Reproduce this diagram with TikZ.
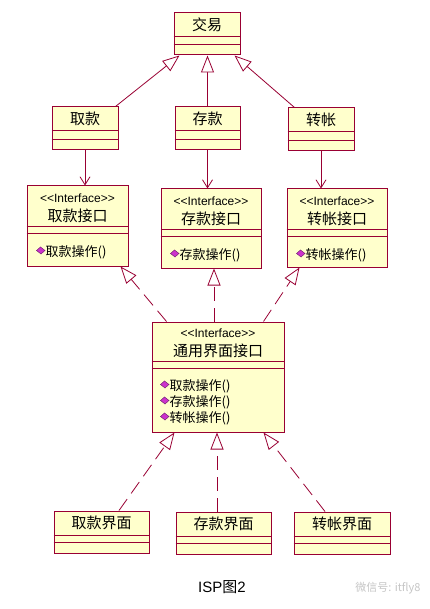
\documentclass[tikz,border=0pt]{standalone}
\usepackage{fontspec}
\setmainfont{Liberation Sans}
\newfontfamily\cjk{Noto Sans CJK SC}
\newfontfamily\stereofont{Liberation Sans}
\usepackage{tikz}
\usetikzlibrary{
	arrows.meta,
	calc,
	positioning
}
\definecolor{ClassRed}{RGB}{153,0,51}
\definecolor{ClassFill}{RGB}{255,255,204}
\definecolor{OpPurple}{RGB}{204,51,204}

% 类框里的两条分隔线：#1 节点名，#2 #3 距上边的距离
\newcommand{\classrules}[3]{%
	\draw[ClassRed, line width=1pt] ($(#1.north west)+(0,#2)$) -- ($(#1.north east)+(0,#2)$);
	\draw[ClassRed, line width=1pt] ($(#1.north west)+(0,#3)$) -- ($(#1.north east)+(0,#3)$);
}
% 操作名前面的小菱形
\newcommand{\opdiamond}[1]{%
	\filldraw[fill=OpPurple, draw=OpPurple!50!black, line width=0.4pt]
		($(#1.west)+(-9,-2)$) -- ($(#1.west)+(-5,-5.5)$) -- ($(#1.west)+(-0.5,-2)$) -- ($(#1.west)+(-4.5,1.5)$) -- cycle;
}

\begin{document}
\begin{tikzpicture}[x=1pt, y=-1pt,
		classbox/.style={draw=ClassRed, fill=ClassFill, line width=1pt, inner sep=0pt},
		title/.style={inner sep=0pt, font=\cjk\fontsize{15}{18}\selectfont},
		stereo/.style={inner sep=0pt, font=\stereofont\fontsize{12}{14}\selectfont},
		op/.style={inner sep=0pt, anchor=west, font=\cjk\fontsize{13}{15}\selectfont},
		inherit/.style={draw=ClassRed, line width=0.8pt, -{Triangle[open, length=17pt, width=13pt, fill=white]}},
		realize/.style={inherit, dash pattern=on 14pt off 7pt},
		depend/.style={draw=ClassRed, line width=0.8pt, -{Straight Barb[length=8pt, width=10pt]}}]
	\fill[white] (0,0) rectangle (430,609);
	\useasboundingbox (0,0) rectangle (430,609);
	
	% 父类 交易
	\node[classbox, minimum width=66pt, minimum height=42pt] (jy) at (207,34) {};
	\classrules{jy}{24}{32}
	\node[title] (jy-t) at ($(jy.north)+(0,12)$) {交易};
	
	% 三个子类
	\node[classbox, minimum width=66pt, minimum height=43pt] (qk) at (85,128.5) {};
	\node[classbox, minimum width=65pt, minimum height=43pt] (ck) at (207.5,128.5) {};
	\node[classbox, minimum width=66pt, minimum height=43pt] (zz) at (321,129.5) {};
	\foreach \n/\t in {qk/取款, ck/存款, zz/转帐}{
		\classrules{\n}{24}{33}
		\node[title] (\n-t) at ($(\n.north)+(0,12)$) {\t};
	}
	
	% 三个接口
	\node[classbox, minimum width=101pt, minimum height=80pt] (qkjk) at (77.5,226) {};
	\node[classbox, minimum width=100pt, minimum height=79pt] (ckjk) at (211,228.5) {};
	\node[classbox, minimum width=100pt, minimum height=78pt] (zzjk) at (337,228) {};
	\foreach \n/\t/\o in {qkjk/取款接口/取款操作(), ckjk/存款接口/存款操作(), zzjk/转帐接口/转帐操作()}{
		\classrules{\n}{41}{48}
		\node[stereo] (\n-s) at ($(\n.north)+(0,13)$) {<<Interface>>};
		\node[title] (\n-t) at ($(\n.north)+(0,30)$) {\t};
		\node[op] (\n-o) at ($(\n.north west)+(19,67)$) {\o};
		\opdiamond{\n-o}
	}
	
	% 通用界面接口
	\node[classbox, minimum width=132pt, minimum height=110pt] (ty) at (218,377) {};
	\classrules{ty}{40}{47}
	\node[stereo] (ty-s) at ($(ty.north)+(0,12)$) {<<Interface>>};
	\node[title] (ty-t) at ($(ty.north)+(0,29)$) {通用界面接口};
	\node[op] (ty-o1) at ($(ty.north west)+(18,65)$) {取款操作()};
	\node[op] (ty-o2) at ($(ty.north west)+(18,81)$) {存款操作()};
	\node[op] (ty-o3) at ($(ty.north west)+(18,97)$) {转帐操作()};
	\foreach \o in {ty-o1, ty-o2, ty-o3}{\opdiamond{\o}}
	
	% 三个界面
	\node[classbox, minimum width=95pt, minimum height=42pt] (qkjm) at (101.5,532) {};
	\node[classbox, minimum width=95pt, minimum height=42pt] (ckjm) at (223.5,533) {};
	\node[classbox, minimum width=96pt, minimum height=42pt] (zzjm) at (342,533) {};
	\foreach \n/\t in {qkjm/取款界面, ckjm/存款界面, zzjm/转帐界面}{
		\classrules{\n}{25}{32}
		\node[title] (\n-t) at ($(\n.north)+(0,12.5)$) {\t};
	}
	
	% 继承
	\draw[inherit] ($(qk.north east)+(-3,0)$) -- ($(jy.south west)+(6,0)$);
	\draw[inherit] (ck.north) -- (ck.north |- jy.south);
	\draw[inherit] ($(zz.north west)+(7,0)$) -- ($(jy.south east)+(-6,0)$);
	
	% 依赖
	\draw[depend] (qk.south) -- (qk.south |- qkjk.north);
	\draw[depend] (ck.south) -- (ck.south |- ckjk.north);
	\draw[depend] (zz.south) -- (zz.south |- zzjk.north);
	
	% 接口继承（虚线）
	\draw[realize] ($(ty.north west)+(15,0)$) -- ($(qkjk.south east)+(-8,0)$);
	\draw[realize] ($(ty.north)+(-4,0)$) -- ($(ckjk.south)+(3,0)$);
	\draw[realize] ($(ty.north east)+(-21,0)$) -- ($(zzjk.south west)+(13,0)$);
	
	% 实现
	\draw[realize] ($(qkjm.north)+(17.5,0)$) -- ($(ty.south west)+(23,0)$);
	\draw[realize] ($(ckjm.north)+(-6.5,0)$) -- ($(ty.south)+(-1,0)$);
	\draw[realize] ($(zzjm.north)+(-17,0)$) -- ($(ty.south east)+(-21,0)$);
	
	% 图题和水印
	\node[inner sep=0pt, font=\fontsize{15}{18}\selectfont] (cap) at (222,587) {ISP{\cjk 图}2};
	\node[inner sep=0pt, font=\cjk\fontsize{11}{13}\selectfont, text=gray!45] (wm) at (388,588) {微信号: itfly8};
\end{tikzpicture}
\end{document}
